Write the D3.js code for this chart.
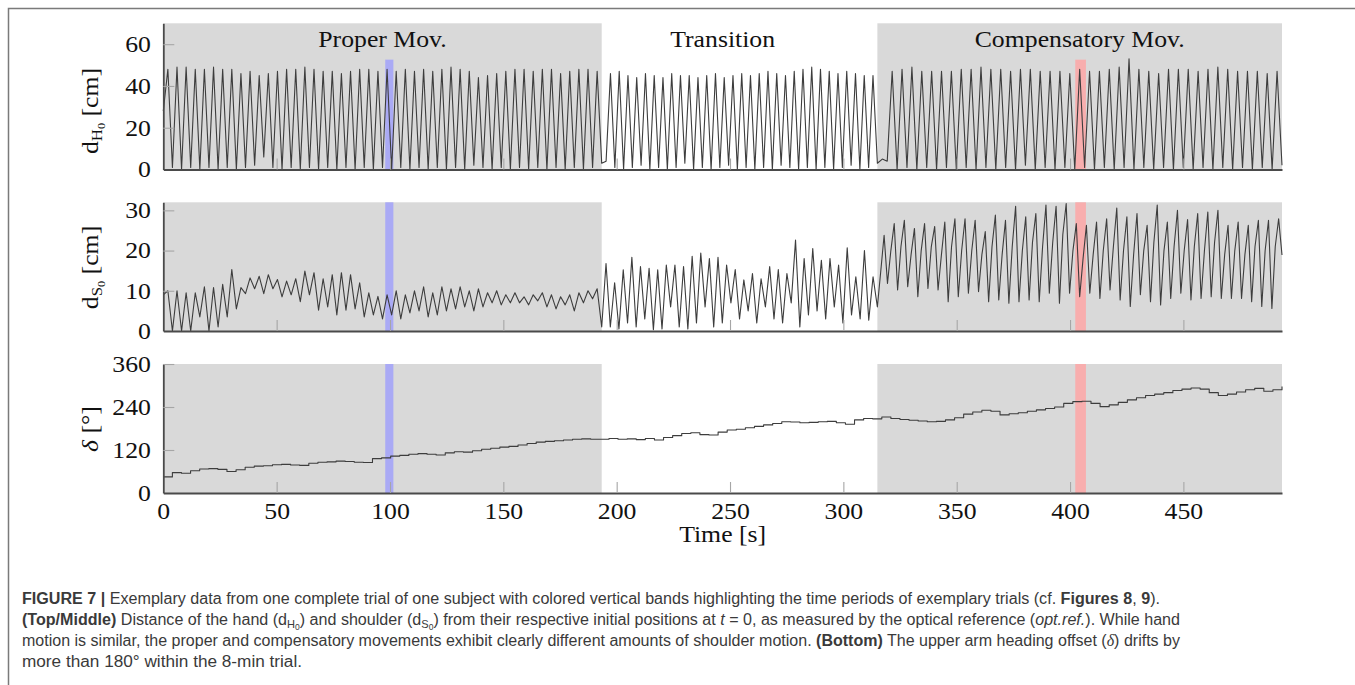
<!DOCTYPE html>
<html lang="en">
<head>
<meta charset="UTF-8">
<title>Figure 7</title>
<script src="https://cdn.jsdelivr.net/npm/d3@7/dist/d3.min.js"></script>
<style>
    * { margin: 0; padding: 0 }
    body { background: #fff; }
    svg { display: block; }
</style>
</head>
<body>
<svg id="fig" width="1355" height="685"></svg>
<script>
// trial phases [s]
const phaseNames = ['Proper Mov.', 'Transition', 'Compensatory Mov.'];
const phaseStart = [0, 193.4, 315];
const phaseEnd = [193.4, 315, 493.5];
const phaseShaded = [true, false, true];

// exemplary trials highlighted (cf. Fig. 8, 9)
const bandStart = [97.9, 402.3];
const bandEnd = [101.5, 407];
const bandColors = ['#aaaaf5', '#f8aeae'];

const timeTicks = [0, 50, 100, 150, 200, 250, 300, 350, 400, 450];
const handTicks = [0, 20, 40, 60];
const shoulderTicks = [0, 10, 20, 30];
const deltaTicks = [0, 120, 240, 360];

// d_H0 [cm] turning points, evenly spread over each phase
const handProper = [28,
    48, 1, 49, 0, 49, 1, 48, 0, 48, 1, 49, 0, 48, 1, 48, 0,
    46, 1, 47, 2, 45, 6, 46, 1, 47, 0, 48, 1, 48, 0, 49, 1,
    48, 0, 47, 1, 47, 0, 46, 1, 47, 0, 48, 1, 48, 0, 47, 1,
    48, 0, 47, 1, 48, 0, 47, 1, 48, 0, 47, 1, 48, 0, 49, 1,
    48, 0, 47, 2, 44, 1, 45, 0, 46, 1, 47, 0, 48, 1, 48, 0,
    47, 1, 48, 0, 48, 1, 46, 0, 47, 1, 48, 0, 48, 1, 47, 3];
const handTransition = [3, 4,
    46, 1, 47, 0, 45, 1, 44, 2, 46, 0, 45, 1, 44, 0, 46, 1,
    45, 3, 45, 0, 44, 1, 45, 0, 46, 1, 44, 2, 45, 0, 46, 1,
    45, 0, 46, 1, 47, 0, 46, 2, 45, 1, 47, 0, 48, 1, 49, 0,
    48, 1, 47, 0, 46, 1, 47, 2, 46, 0, 45, 1, 45, 3];
const handCompensatory = [3, 5, 4,
    47, 0, 48, 1, 49, 0, 47, 1, 47, 0, 47, 1, 47, 0, 48, 1,
    48, 0, 49, 1, 48, 0, 48, 1, 47, 0, 48, 2, 48, 0, 47, 1,
    47, 0, 47, 1, 46, 0, 48, 1, 47, 0, 47, 1, 48, 0, 49, 1,
    53, 0, 48, 1, 47, 0, 46, 1, 48, 0, 48, 1, 48, 0, 47, 1,
    48, 0, 49, 1, 48, 0, 47, 1, 47, 0, 47, 1, 46, 0, 47, 2];

// d_S0 [cm]
const shoulderProper = [9,
    10, 0, 10, 0, 9.5, 0, 9.5, 3.5, 11, 0, 10.8, 1, 11.6, 3.5, 15.3, 5.5,
    10.8, 9.3, 13.2, 10.5, 13.6, 9.3, 14, 10.5, 12.8, 8.5, 12.4, 9, 13, 7.3, 14.9, 9,
    14.5, 5.2, 13, 6, 14, 4, 14.5, 5.2, 14, 5.5, 12, 3.5, 9.5, 4, 8.6, 3,
    9, 4, 10, 3, 9, 4.5, 10, 5, 11, 3.5, 9.5, 4, 11, 5, 10.5, 5.5,
    11, 6, 10, 5, 10.5, 6, 9.5, 7, 10, 6.5, 9, 7, 9.5, 7, 8.5, 6.5,
    9, 7.5, 9.5, 6, 9, 5.5, 8.5, 6.5, 9, 5, 9.5, 7, 10, 8, 10.5, 1];
const shoulderTransition = [1,
    16.8, 1, 12, 0.5, 15.2, 2, 18.3, 1, 16, 3, 15.6, 0.3, 15.2, 0.5, 16.4, 6,
    16.4, 1, 16, 0.5, 18.6, 2, 19.4, 6, 18, 1, 18.3, 2, 16.4, 7, 15.3, 3,
    12.7, 5, 14.3, 2, 13, 6, 16, 3, 15.3, 2, 14.3, 7, 22.6, 1, 18, 4,
    20.5, 5, 17.6, 3, 18, 6, 16.4, 2, 20.7, 4, 13.5, 3, 20, 2.7, 13.5, 6];
const shoulderCompensatory = [6, 14.8, 23.8,
    11.8, 20, 26.7, 10.2, 21, 27.5, 11, 19, 25.5, 8.5, 20, 26.7,
    10.6, 21, 26, 10.2, 19, 27.1, 7.3, 21, 27.9, 8.5, 20, 27.9,
    9.4, 20, 27.5, 9.8, 19, 24.7, 7.3, 21, 28.8, 7.7, 19, 27.5,
    6.9, 21, 31, 7.3, 20, 28.4, 7.7, 22, 29.2, 7.3, 21, 31.3,
    9.4, 22, 31, 6.9, 24, 31.7, 9.4, 20, 26.7, 8.5, 18, 26.3,
    9.4, 19, 27.1, 8.1, 20, 27.9, 10.2, 21, 30.6, 7.7, 20, 28.4,
    6.1, 19, 29.2, 9, 20, 26.3, 7.3, 22, 31.3, 6.5, 20, 27.1,
    8.1, 21, 30, 9.4, 20, 27.7, 7.7, 21, 29.2, 8.1, 20, 29.6,
    8.5, 22, 30, 8.1, 19, 26.3, 8.1, 20, 27.1, 8.1, 19, 26.3,
    7.3, 21, 27.5, 6.1, 20, 27.5, 5.6, 21, 27.9, 18.9];

// heading offset delta [deg], one value per ~4 s over the whole trial
const delta = [
    45, 57, 55, 62, 67, 68, 66, 60, 65, 72, 75, 76, 79, 80, 78, 77,
    83, 86, 87, 89, 88, 86, 85, 96, 98, 103, 105, 108, 110, 108, 106, 112,
    115, 114, 118, 122, 125, 128, 130, 134, 138, 142, 144, 146, 148, 150, 151, 150,
    150, 152, 150, 151, 149, 152, 148, 155, 160, 166, 168, 163, 162, 170, 176, 178,
    182, 186, 190, 194, 199, 198, 196, 197, 199, 200, 196, 192, 204, 208, 207, 212,
    208, 205, 203, 201, 199, 200, 204, 210, 220, 226, 231, 228, 218, 221, 224, 228,
    232, 236, 240, 250, 255, 256, 250, 241, 246, 253, 260, 266, 272, 276, 280, 286,
    290, 293, 290, 280, 272, 276, 282, 288, 292, 284, 288, 297];

const serif = "'Liberation Serif', 'Times New Roman', serif";
const stretch = 1.12;   // the figure font runs a bit wider than Times

function spread(values, t0, t1) {
    const dt = (t1 - t0) / (values.length - 1);
    return values.map((v, i) => [t0 + i * dt, v]);
}

const hand = [].concat(
    spread(handProper, phaseStart[0], phaseEnd[0]),
    spread(handTransition, phaseStart[1], phaseEnd[1]),
    spread(handCompensatory, phaseStart[2], phaseEnd[2]));
const shoulder = [].concat(
    spread(shoulderProper, phaseStart[0], phaseEnd[0]),
    spread(shoulderTransition, phaseStart[1], phaseEnd[1]),
    spread(shoulderCompensatory, phaseStart[2], phaseEnd[2]));
const heading = spread(delta, phaseStart[0], phaseEnd[2]);

const svg = d3.select('#fig');

// outer frame of the figure
svg.append('path')
    .attr('d', 'M8.5,685V8.5H1355')
    .attr('fill', 'none')
    .attr('stroke', '#7a7a7a')
    .attr('stroke-width', 1.5);

const x = d3.scaleLinear().domain([0, 493.5]).range([163.3, 1282]);

const panels = [
    {data: hand, ticks: handTicks, max: 70, top: 23.3, bottom: 169.5, bandTop: 52.6,
        label: [{t: 'd'}, {t: 'H', fs: 15, dy: 4}, {t: '0', fs: 11, dy: 3}, {t: ' [cm]', dy: -7}], labelY: 111},
    {data: shoulder, ticks: shoulderTicks, max: 32, top: 202.3, bottom: 331, bandTop: 32,
        label: [{t: 'd'}, {t: 'S', fs: 15, dy: 4}, {t: '0', fs: 11, dy: 3}, {t: ' [cm]', dy: -7}], labelY: 267.5},
    {data: heading, ticks: deltaTicks, max: 360, top: 364, bottom: 493, bandTop: 360, step: true,
        label: [{t: 'δ', i: true}, {t: ' [°]'}], labelY: 429}
];

function rich(text, parts) {
    parts.forEach(p => {
        const ts = text.append('tspan').text(p.t);
        if (p.b) ts.attr('font-weight', 'bold');
        if (p.i) ts.attr('font-style', 'italic');
        if (p.f) ts.attr('font-family', p.f);
        if (p.fs) ts.attr('font-size', p.fs);
        if (p.dy) ts.attr('dy', p.dy);
    });
}

panels.forEach((p, k) => {
    const y = d3.scaleLinear().domain([0, p.max]).range([p.bottom, p.top]);
    const g = svg.append('g');

    // shaded phases
    g.selectAll('rect.phase')
        .data(phaseNames.map((n, i) => i).filter(i => phaseShaded[i]))
        .join('rect')
        .attr('class', 'phase')
        .attr('x', i => x(phaseStart[i]))
        .attr('width', i => x(phaseEnd[i]) - x(phaseStart[i]))
        .attr('y', y(p.max))
        .attr('height', y(0) - y(p.max))
        .attr('fill', '#d9d9d9');

    // exemplary trial bands
    g.selectAll('rect.band')
        .data(bandStart.map((b, i) => i))
        .join('rect')
        .attr('class', 'band')
        .attr('x', i => x(bandStart[i]))
        .attr('width', i => x(bandEnd[i]) - x(bandStart[i]))
        .attr('y', y(p.bandTop))
        .attr('height', y(0) - y(p.bandTop))
        .attr('fill', i => bandColors[i]);

    const line = d3.line()
        .x(d => x(d[0]))
        .y(d => y(d[1]))
        .curve(p.step ? d3.curveStepAfter : d3.curveLinear);

    g.append('path')
        .attr('d', line(p.data))
        .attr('fill', 'none')
        .attr('stroke', '#3d3d3d')
        .attr('stroke-width', 1.1)
        .attr('stroke-linejoin', 'round');

    // y axis, ticks pointing inwards
    const ya = g.append('g')
        .attr('transform', `translate(${x(0)},0)`)
        .call(d3.axisLeft(y).tickValues(p.ticks).tickSizeInner(-11).tickSizeOuter(0).tickPadding(11));
    // x axis
    const xa = g.append('g')
        .attr('transform', `translate(0,${y(0)})`)
        .call(d3.axisBottom(x).tickValues(timeTicks).tickSizeInner(-11).tickSizeOuter(0).tickPadding(10));

    [ya, xa].forEach(a => {
        a.select('.domain').attr('stroke', '#4a4a4a').attr('stroke-width', 1.8);
        a.selectAll('.tick line').attr('stroke', '#a6a6a6').attr('stroke-width', 1.1)
            .filter(d => d === 0).remove();
        a.selectAll('.tick text')
            .attr('font-family', serif)
            .attr('font-size', 23)
            .attr('fill', '#111')
            .attr('transform', `scale(${stretch},1)`);
    });
    ya.raise();
    if (k < 2) xa.selectAll('.tick text').remove();

    // axis title
    const lab = svg.append('text')
        .attr('transform', `translate(98,${p.labelY}) rotate(-90) scale(${stretch},1)`)
        .attr('text-anchor', 'middle')
        .attr('font-family', serif)
        .attr('font-size', 23)
        .attr('fill', '#111');
    rich(lab, p.label);

    // phase titles on top panel
    if (k === 0) {
        phaseNames.forEach((n, i) => {
            const cx = i === 1 ? (x.range()[0] + x.range()[1]) / 2 : x((phaseStart[i] + phaseEnd[i]) / 2);
            svg.append('text')
                .attr('transform', `translate(${cx},46.5) scale(${stretch},1)`)
                .attr('text-anchor', 'middle')
                .attr('font-family', serif)
                .attr('font-size', 23)
                .attr('fill', '#111')
                .text(n);
        });
    }
});

svg.append('text')
    .attr('transform', `translate(${(x.range()[0] + x.range()[1]) / 2},542) scale(${stretch},1)`)
    .attr('text-anchor', 'middle')
    .attr('font-family', serif)
    .attr('font-size', 23)
    .attr('fill', '#111')
    .text('Time [s]');

// caption
const sans = "'Liberation Sans Narrow', 'Liberation Sans', Arial, sans-serif";
const caption = [
    {y: 604, w: 1138, parts: [
        {t: 'FIGURE 7 | ', b: true},
        {t: 'Exemplary data from one complete trial of one subject with colored vertical bands highlighting the time periods of exemplary trials (cf. '},
        {t: 'Figures 8', b: true}, {t: ', '}, {t: '9', b: true}, {t: ').'}]},
    {y: 625, w: 1158, parts: [
        {t: '(Top/Middle)', b: true},
        {t: ' Distance of the hand (d'}, {t: 'H', fs: 11, dy: 3}, {t: '0', fs: 8.5, dy: 2},
        {t: ') and shoulder (d', dy: -5}, {t: 'S', fs: 11, dy: 3}, {t: '0', fs: 8.5, dy: 2},
        {t: ') from their respective initial positions at ', dy: -5}, {t: 't', i: true},
        {t: ' = 0, as measured by the optical reference ('}, {t: 'opt.ref.', i: true},
        {t: '). While hand'}]},
    {y: 646, w: 1158, parts: [
        {t: 'motion is similar, the proper and compensatory movements exhibit clearly different amounts of shoulder motion. '},
        {t: '(Bottom)', b: true},
        {t: ' The upper arm heading offset ('}, {t: 'δ', i: true, f: serif}, {t: ') drifts by'}]},
    {y: 667, w: 280, parts: [{t: 'more than 180° within the 8-min trial.'}]}
];

caption.forEach(c => {
    const t = svg.append('text')
        .attr('x', 22)
        .attr('y', c.y)
        .attr('font-family', sans)
        .attr('font-size', 16)
        .attr('fill', '#3a3a3a')
        .attr('textLength', c.w)
        .attr('lengthAdjust', 'spacingAndGlyphs');
    rich(t, c.parts);
});
</script>
</body>
</html>
